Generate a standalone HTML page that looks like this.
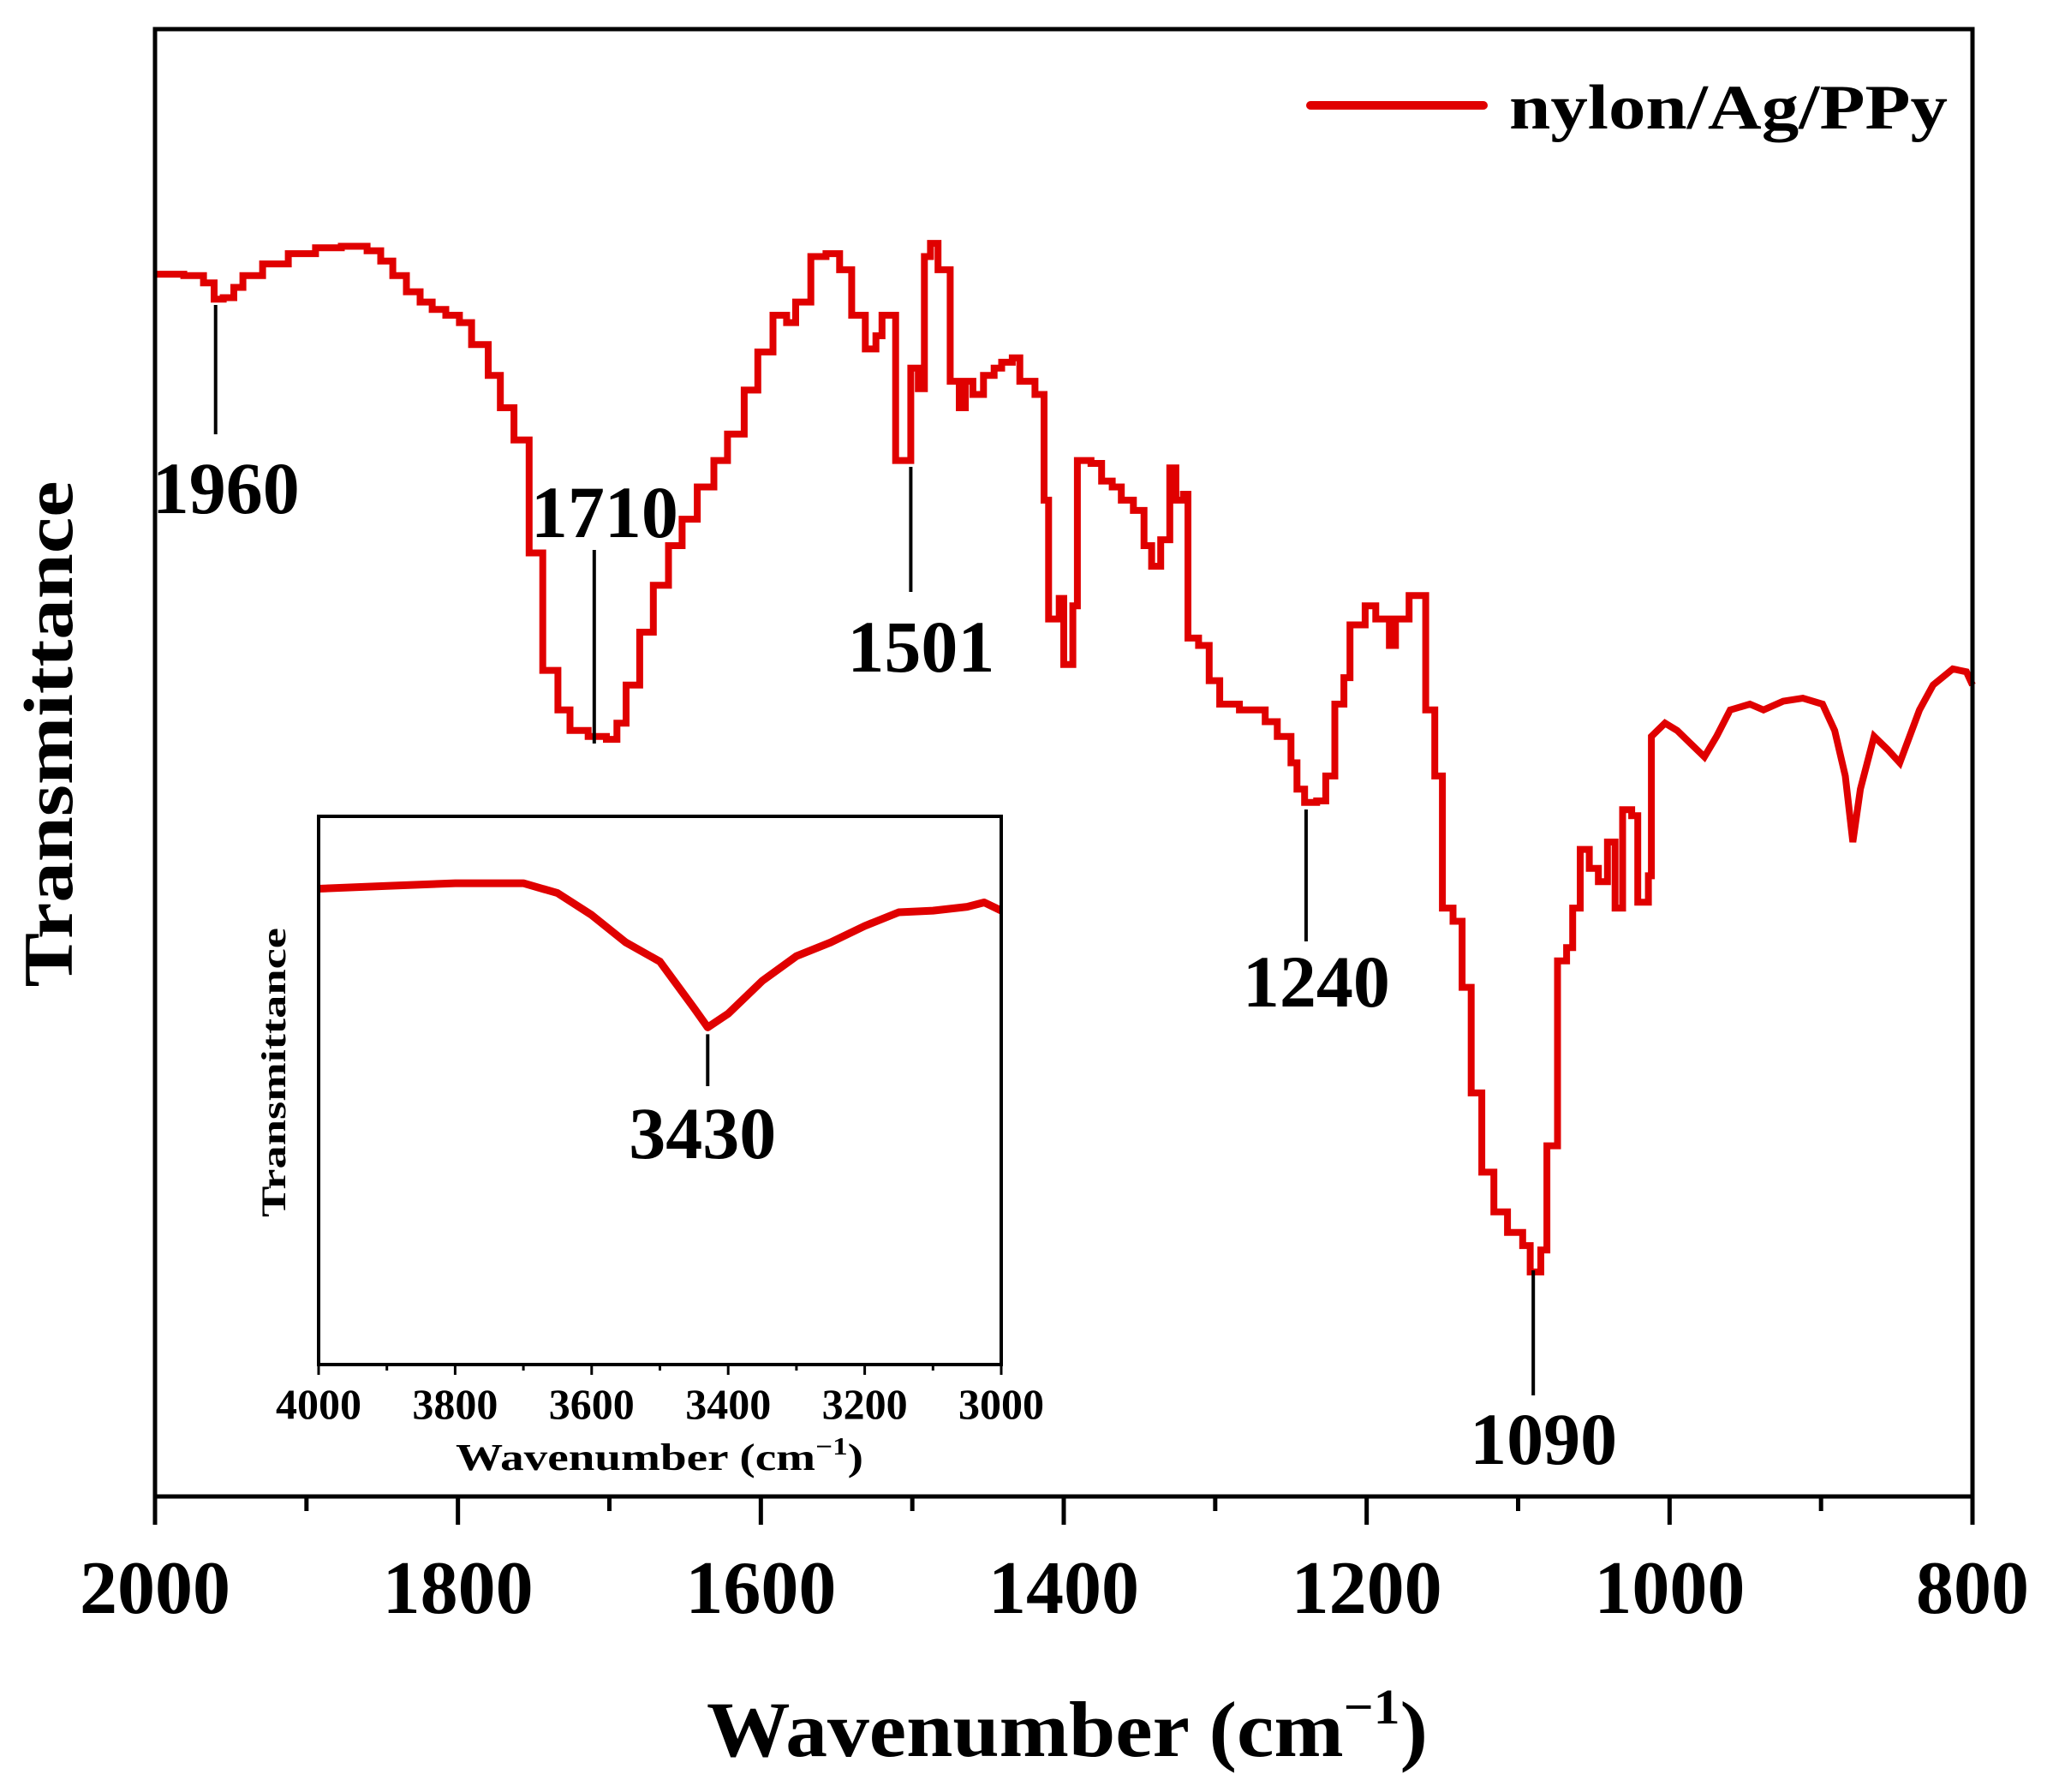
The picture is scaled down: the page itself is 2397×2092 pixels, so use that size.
<!DOCTYPE html>
<html><head><meta charset="utf-8"><style>
html,body{margin:0;padding:0;background:#fff;}
svg{display:block;font-family:"Liberation Serif",serif;font-weight:bold;}
</style></head><body>
<svg id="chart" width="2397" height="2092" viewBox="0 0 2397 2092" xmlns="http://www.w3.org/2000/svg">
<rect width="2397" height="2092" fill="#fff"/>
<g id="main-ticks"></g>
<g id="main-curve"></g>
<rect x="181" y="34" width="2122" height="1713" fill="none" stroke="#000" stroke-width="5"/>
<g id="annots"></g>
<line x1="1530" y1="123" x2="1732" y2="123" stroke="#e00000" stroke-width="10" stroke-linecap="round"/>
<text x="1762" y="150" font-size="74" textLength="512" lengthAdjust="spacingAndGlyphs">nylon/Ag/PPy</text>
<text transform="translate(84,857) rotate(-90)" text-anchor="middle" font-size="82" textLength="591" lengthAdjust="spacingAndGlyphs">Transmittance</text>
<text x="825" y="2050" font-size="92" textLength="842" lengthAdjust="spacingAndGlyphs">Wavenumber (cm<tspan font-size="58" dy="-38">−1</tspan><tspan dy="38">)</tspan></text>
<g id="inset">
<rect x="372" y="953" width="797" height="640" fill="#fff"/>
<g id="inset-ticks"></g>
<g id="inset-curve"></g>
<rect x="372" y="953" width="797" height="640" fill="none" stroke="#000" stroke-width="4"/>
<text transform="translate(333,1252) rotate(-90)" text-anchor="middle" font-size="40" textLength="338" lengthAdjust="spacingAndGlyphs">Transmittance</text>
<text x="532" y="1716" font-size="44" textLength="476" lengthAdjust="spacingAndGlyphs">Wavenumber (cm<tspan font-size="28" dy="-18">−1</tspan><tspan dy="18">)</tspan></text>
</g>
</svg>
<script>
const mainWn = [2000,1981,1968,1961,1955,1948,1942,1929,1912,1894,1877,1860,1851,1843,1834,1825,1817,1808,1799,1791,1780,1772,1763,1753,1744,1734,1726,1714,1702,1695,1689,1680,1671,1661,1652,1642,1631,1622,1611,1602,1592,1583,1577,1567,1557,1548,1540,1531,1524,1520,1514,1511,1505,1501,1496,1492,1488,1483,1477,1475,1469,1465,1460,1453,1446,1441,1434,1429,1423,1419,1413,1410,1403,1400,1394,1391,1382,1375,1368,1362,1354,1347,1342,1336,1330,1326,1321,1318,1311,1304,1297,1284,1273,1267,1259,1250,1246,1241,1233,1227,1221,1215,1211,1201,1194,1185,1181,1172,1161,1155,1150,1143,1137,1131,1124,1116,1107,1097,1092,1085,1081,1076,1074,1068,1064,1059,1053,1047,1041,1036,1031,1025,1021,1014,1012,1003,995,986,977,969,960,947,938,925,912,899,891,884,879,874,865,856,848,835,826,813,804,800];
const mainT = [83.3,83.2,82.7,81.6,81.7,82.4,83.2,84.0,84.7,85.1,85.2,84.9,84.2,83.2,82.1,81.4,80.9,80.5,80.0,78.5,76.4,74.2,72.0,64.3,56.3,53.6,52.2,51.8,51.6,52.7,55.3,58.9,62.1,64.8,66.6,68.8,70.6,72.4,75.4,78.0,80.5,80.0,81.4,84.5,84.7,83.6,80.5,78.2,79.1,80.5,80.5,70.6,70.6,76.9,75.5,84.5,85.4,83.6,83.6,76.0,74.2,76.0,75.1,76.4,76.9,77.3,77.6,76.0,76.0,75.1,67.9,59.8,61.2,56.7,60.7,70.6,70.4,69.2,68.8,67.9,67.2,64.8,63.4,65.2,70.1,67.9,68.3,58.5,58.0,55.6,54.0,53.6,53.6,52.8,51.8,50.0,48.2,47.3,47.4,49.1,54.0,55.8,59.4,60.7,59.8,58.0,59.8,61.4,53.6,49.1,40.1,39.2,34.7,27.5,22.1,19.4,18.0,17.1,15.3,16.8,23.9,23.9,36.5,37.4,40.1,44.1,42.8,41.9,44.6,40.1,46.8,46.4,40.5,42.3,51.8,52.7,52.2,51.3,50.4,51.8,53.6,54.0,53.6,54.2,54.4,54.0,52.2,49.1,44.6,48.2,51.8,50.9,50.0,53.6,55.3,56.4,56.2,55.3];
const mainTicks = [2000,1800,1600,1400,1200,1000,800];
const mainMinor = [1900,1700,1500,1300,1100,900];
const peakWn = [1960,1710,1501,1240,1090];
const peakLabels = ["1960","1710","1501","1240","1090"];
const insetWn = [4000,3900,3800,3700,3650,3600,3550,3500,3450,3430,3400,3350,3300,3250,3200,3150,3100,3050,3025,3000];
const insetT = [86.8,87.3,87.8,87.8,86,82,77,73.5,65,61.5,64,70,74.5,77,80,82.5,82.8,83.5,84.3,82.8];
const insetTicks = [4000,3800,3600,3400,3200,3000];
const insetMinor = [3900,3700,3500,3300,3100];

const NS="http://www.w3.org/2000/svg";
function mk(tag,attrs,parent){const e=document.createElementNS(NS,tag);for(const k in attrs)e.setAttribute(k,attrs[k]);parent.appendChild(e);return e;}
const xM=w=>181+(2000-w)/1200*2122;
const yM=t=>1747-t/100*1713;
const xI=w=>372+(4000-w)/1000*797;
const yI=t=>1593-t/100*640;

const mt=document.getElementById('main-ticks');
mainTicks.forEach(v=>{
  const l=mk('line',{x1:xM(v),x2:xM(v),y1:1747,y2:1780,stroke:'#000','stroke-width':5},mt);
  
  
  const t=mk('text',{x:xM(v),y:1883,'text-anchor':'middle','font-size':88},mt);
  t.textContent=String(v);
  
  
});
mainMinor.forEach(v=>{
  const l=mk('line',{x1:xM(v),x2:xM(v),y1:1747,y2:1764,stroke:'#000','stroke-width':5},mt);
  
  
});
const n=Math.min(mainWn.length,mainT.length);
let d='M'+xM(mainWn[0]).toFixed(1)+','+yM(mainT[0]).toFixed(1);
for(let i=1;i<n;i++){
  if(mainWn[i]>1005){d+=' H'+xM(mainWn[i]).toFixed(1)+' V'+yM(mainT[i]).toFixed(1);}
  else{d+=' L'+xM(mainWn[i]).toFixed(1)+','+yM(mainT[i]).toFixed(1);}
}
const pl=mk('path',{d:d,fill:'none',stroke:'#e00000','stroke-width':8,'stroke-linejoin':'miter'},document.getElementById('main-curve'));



const an=document.getElementById('annots');
const annY=[[356,507,599],[642,868,627],[545,691,784],[945,1099,1175],[1483,1629,1709]];
peakWn.forEach((w,i)=>{
  const x=xM(w);
  const l=mk('line',{x1:x,x2:x,y1:annY[i][0],y2:annY[i][1],stroke:'#000','stroke-width':4},an);
  
  
  const t=mk('text',{x:x+12,y:annY[i][2],'text-anchor':'middle','font-size':86},an);
  t.textContent=peakLabels[i];
  
  
});

const it=document.getElementById('inset-ticks');
insetTicks.forEach(v=>{
  const l=mk('line',{x1:xI(v),x2:xI(v),y1:1593,y2:1605,stroke:'#000','stroke-width':3},it);
  
  
  const t=mk('text',{x:xI(v),y:1656,'text-anchor':'middle','font-size':50},it);
  t.textContent=String(v);
  
  
});
insetMinor.forEach(v=>{
  const l=mk('line',{x1:xI(v),x2:xI(v),y1:1593,y2:1600,stroke:'#000','stroke-width':3},it);
  
  
});
let ip=[];for(let i=0;i<Math.min(insetWn.length,insetT.length);i++)ip.push(xI(insetWn[i]).toFixed(1)+','+yI(insetT[i]).toFixed(1));
const ipl=mk('polyline',{points:ip.join(' '),fill:'none',stroke:'#e00000','stroke-width':9,'stroke-linejoin':'round'},document.getElementById('inset-curve'));


const ix=xI(3430);
const il=mk('line',{x1:ix,x2:ix,y1:yI(61.5)+8,y2:1268,stroke:'#000','stroke-width':4},document.getElementById('inset'));


const itx=mk('text',{x:ix-6,y:1352,'text-anchor':'middle','font-size':86},document.getElementById('inset'));
itx.textContent='3430';


</script>
</body></html>
